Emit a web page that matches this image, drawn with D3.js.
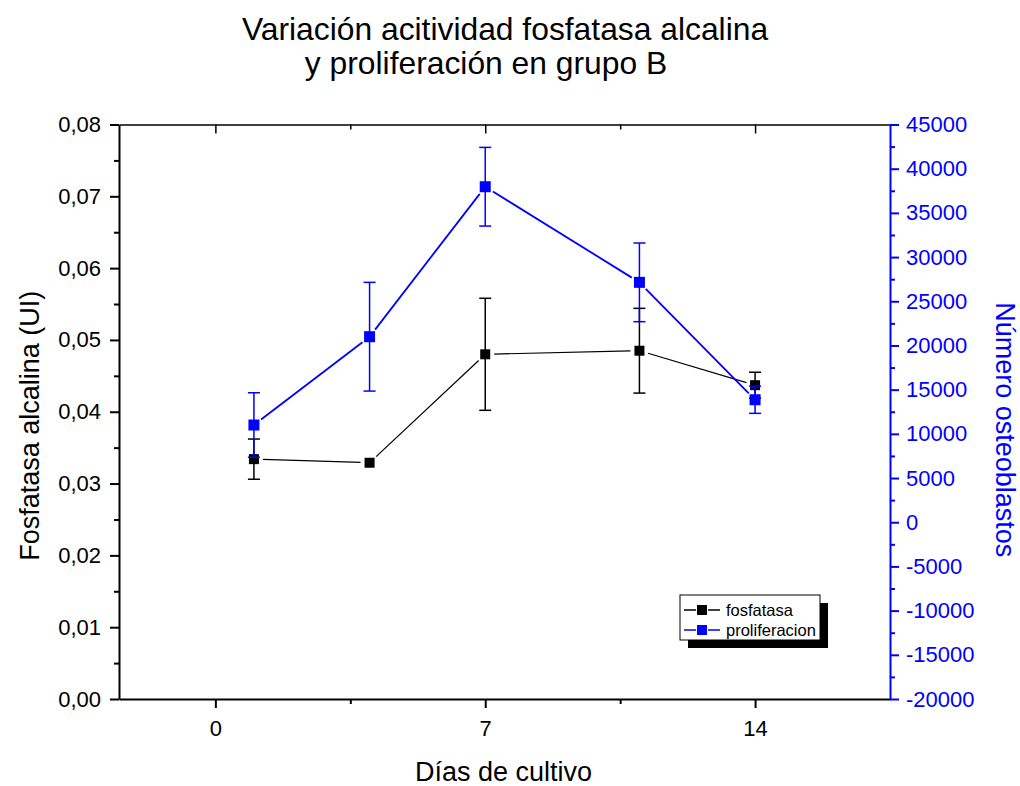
<!DOCTYPE html>
<html>
<head>
<meta charset="utf-8">
<script src="https://cdn.jsdelivr.net/npm/d3@7/dist/d3.min.js"></script>
<style>
  html, body { margin: 0; padding: 0; background: #fff; }
  svg { display: block; font-family: "Liberation Sans", Arial, sans-serif; }
</style>
</head>
<body>
<svg id="chart" width="1020" height="786"></svg>
<script>
// ---- Data ----
const days = [1, 4, 7, 11, 14];
const fosfatasa = [0.0334, 0.0329, 0.0480, 0.0485, 0.0437];
const fosfatasaErr = [0.0028, 0, 0.0078, 0.0059, 0.0018];
const proliferacion = [11000, 20990, 37960, 27140, 13860];
const proliferacionErr = [3650, 6150, 4450, 4450, 1540];
const xTicks = [0, 7, 14];
const xMinorTicks = [3.5, 10.5];
const leftTicks = [0, 0.01, 0.02, 0.03, 0.04, 0.05, 0.06, 0.07, 0.08];
const rightTicks = [-20000, -15000, -10000, -5000, 0, 5000, 10000, 15000, 20000, 25000, 30000, 35000, 40000, 45000];
const titleLines = ["Variación acitividad fosfatasa alcalina", "y proliferación en grupo B"];
const seriesNames = ["fosfatasa", "proliferacion"];

// ---- Layout ----
const L = 119, R = 890, T = 124.5, B = 699;
const BLUE = "#0000FF";
const svg = d3.select("#chart");

const x = d3.scaleLinear().domain([-2.5, 17.5]).range([L, R]);
const yL = d3.scaleLinear().domain([0, 0.08]).range([B, T]);
const yR = d3.scaleLinear().domain([-20000, 45000]).range([B, T]);

const loc = d3.formatLocale({decimal: ",", thousands: ".", grouping: [3], currency: ["", "€"], minus: "-"});
const fmtL = loc.format(".2f");
const fmtR = loc.format("d");

// Title
svg.append("text").attr("x", 505).attr("y", 40).attr("text-anchor", "middle")
  .attr("font-size", 31.8).text(titleLines[0]);
svg.append("text").attr("x", 486).attr("y", 74).attr("text-anchor", "middle")
  .attr("font-size", 31.8).text(titleLines[1]);

// Minor tick helpers
const leftMinor = d3.range(0.005, 0.08, 0.01);
const rightMinor = d3.range(-17500, 45000, 5000);

// Bottom axis
const gB = svg.append("g").attr("transform", `translate(0,${B})`)
  .call(d3.axisBottom(x).tickValues(xTicks).tickSize(9).tickPadding(12).tickSizeOuter(0));
gB.select(".domain").attr("stroke", "#000").attr("stroke-width", 2);
gB.selectAll(".tick line").attr("stroke-width", 2);
gB.selectAll(".tick text").attr("font-size", 22).attr("font-family", "Liberation Sans, Arial, sans-serif").attr("fill", "#000");
svg.append("g").attr("transform", `translate(0,${B})`)
  .call(d3.axisBottom(x).tickValues(xMinorTicks).tickSize(5).tickFormat("").tickSizeOuter(0))
  .call(g => { g.select(".domain").remove(); g.selectAll(".tick line").attr("stroke-width", 2); });

// Top axis (inward ticks)
const gT = svg.append("g").attr("transform", `translate(0,${T})`)
  .call(d3.axisBottom(x).tickValues(xTicks).tickSize(9).tickFormat("").tickSizeOuter(0));
gT.select(".domain").attr("stroke-width", 1.5);
gT.selectAll(".tick line").attr("stroke-width", 1.5);
svg.append("g").attr("transform", `translate(0,${T})`)
  .call(d3.axisBottom(x).tickValues(xMinorTicks).tickSize(5).tickFormat("").tickSizeOuter(0))
  .call(g => { g.select(".domain").remove(); g.selectAll(".tick line").attr("stroke-width", 1.5); });

// Left axis
const gL = svg.append("g").attr("transform", `translate(${L},0)`)
  .call(d3.axisLeft(yL).tickValues(leftTicks).tickFormat(fmtL).tickSize(9).tickPadding(9).tickSizeOuter(0));
gL.select(".domain").attr("stroke-width", 2);
gL.selectAll(".tick line").attr("stroke-width", 2);
gL.selectAll(".tick text").attr("font-size", 22).attr("font-family", "Liberation Sans, Arial, sans-serif").attr("fill", "#000");
svg.append("g").attr("transform", `translate(${L},0)`)
  .call(d3.axisLeft(yL).tickValues(leftMinor).tickSize(5).tickFormat("").tickSizeOuter(0))
  .call(g => { g.select(".domain").remove(); g.selectAll(".tick line").attr("stroke-width", 2); });

// Right axis
const gR = svg.append("g").attr("transform", `translate(${R},0)`)
  .call(d3.axisRight(yR).tickValues(rightTicks).tickFormat(fmtR).tickSize(9).tickPadding(7).tickSizeOuter(0));
gR.select(".domain").attr("stroke", BLUE).attr("stroke-width", 2);
gR.selectAll(".tick line").attr("stroke", BLUE).attr("stroke-width", 2);
gR.selectAll(".tick text").attr("font-size", 22).attr("font-family", "Liberation Sans, Arial, sans-serif").attr("fill", BLUE);
svg.append("g").attr("transform", `translate(${R},0)`)
  .call(d3.axisRight(yR).tickValues(rightMinor).tickSize(5).tickFormat("").tickSizeOuter(0))
  .call(g => { g.select(".domain").remove(); g.selectAll(".tick line").attr("stroke", BLUE).attr("stroke-width", 2); });

// Axis titles
svg.append("text").attr("x", (L + R) / 2 - 1).attr("y", 781).attr("text-anchor", "middle")
  .attr("font-size", 27).text("Días de cultivo");
svg.append("text").attr("transform", `translate(39,${(T + B) / 2 + 14}) rotate(-90)`).attr("text-anchor", "middle")
  .attr("font-size", 27).text("Fosfatasa alcalina (UI)");
svg.append("text").attr("transform", `translate(996,${(T + B) / 2 + 18}) rotate(90)`).attr("text-anchor", "middle")
  .attr("font-size", 27).attr("fill", BLUE).text("Número osteoblastos");

// Series drawing
function drawSeries(vals, errs, yS, color, lw, size, gap) {
  const g = svg.append("g");
  const pts = days.map((d, i) => [x(d), yS(vals[i])]);
  // connecting segments with gaps around symbols
  for (let i = 0; i < pts.length - 1; i++) {
    const [x0, y0] = pts[i], [x1, y1] = pts[i + 1];
    const len = Math.hypot(x1 - x0, y1 - y0);
    const ux = (x1 - x0) / len, uy = (y1 - y0) / len;
    g.append("line")
      .attr("x1", x0 + ux * gap).attr("y1", y0 + uy * gap)
      .attr("x2", x1 - ux * gap).attr("y2", y1 - uy * gap)
      .attr("stroke", color).attr("stroke-width", lw);
  }
  // error bars
  days.forEach((d, i) => {
    if (!errs[i]) return;
    const cx = x(d), yt = yS(vals[i] + errs[i]), yb = yS(vals[i] - errs[i]);
    g.append("line").attr("x1", cx).attr("x2", cx).attr("y1", yt).attr("y2", yb)
      .attr("stroke", color).attr("stroke-width", 1.5);
    [yt, yb].forEach(yy => g.append("line").attr("x1", cx - 6).attr("x2", cx + 6)
      .attr("y1", yy).attr("y2", yy).attr("stroke", color).attr("stroke-width", 1.5));
  });
  // symbols
  g.selectAll("rect.sym").data(days).join("rect").attr("class", "sym")
    .attr("x", (d, i) => x(d) - size / 2).attr("y", (d, i) => yS(vals[i]) - size / 2)
    .attr("width", size).attr("height", size).attr("fill", color);
}
drawSeries(fosfatasa, fosfatasaErr, yL, "#000", 1.2, 10, 9);
drawSeries(proliferacion, proliferacionErr, yR, BLUE, 1.8, 11, 9);

// Legend
const lg = svg.append("g").attr("transform", "translate(680,595)");
lg.append("rect").attr("x", 8).attr("y", 8).attr("width", 140).attr("height", 45).attr("fill", "#000");
lg.append("rect").attr("x", 0).attr("y", 0).attr("width", 140).attr("height", 45)
  .attr("fill", "#fff").attr("stroke", "#000").attr("stroke-width", 1);
const legColors = ["#000", BLUE];
seriesNames.forEach((name, i) => {
  const yy = 15 + i * 20;
  lg.append("line").attr("x1", 4).attr("x2", 16).attr("y1", yy).attr("y2", yy).attr("stroke", legColors[i]).attr("stroke-width", 1.5);
  lg.append("line").attr("x1", 28).attr("x2", 40).attr("y1", yy).attr("y2", yy).attr("stroke", legColors[i]).attr("stroke-width", 1.5);
  lg.append("rect").attr("x", 17).attr("y", yy - 5).attr("width", 10).attr("height", 10).attr("fill", legColors[i]);
  lg.append("text").attr("x", 46).attr("y", yy + 6).attr("font-size", 16.5).attr("fill", "#000").text(name);
});
</script>
</body>
</html>
